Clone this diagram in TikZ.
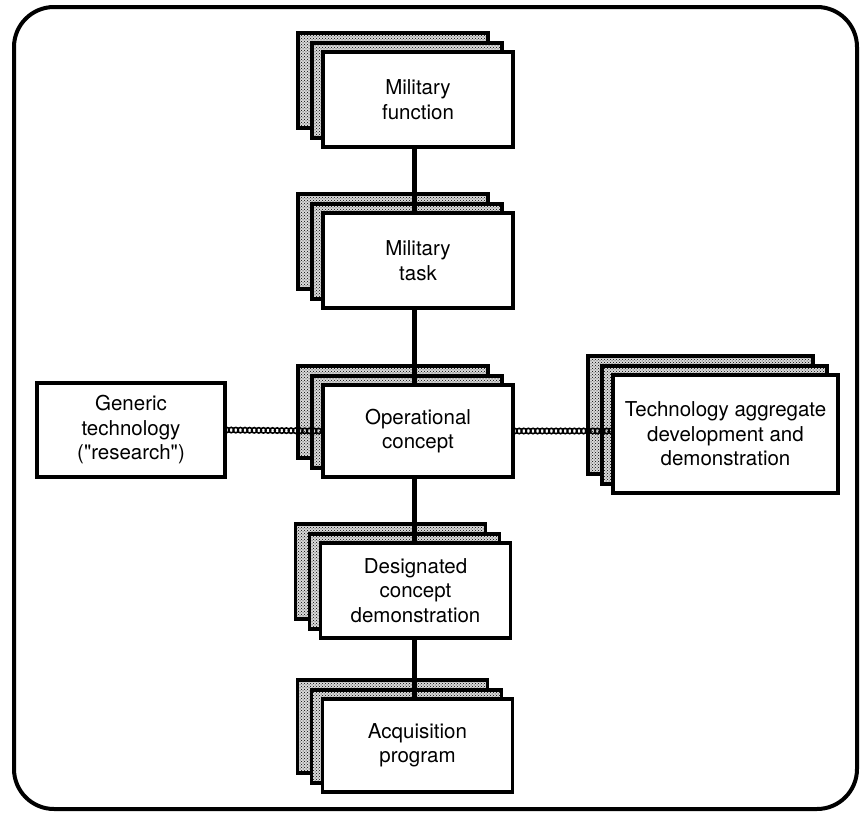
\documentclass[tikz,border=0pt]{standalone}
\usepackage{fontspec}
\setmainfont{TeX Gyre Heros}
\usetikzlibrary{patterns,decorations.markings}

% two stippled sheets stacked behind a box: centre x, centre y, width, height
\newcommand\backsheets[4]{%
  \draw[sheet] ({#1-#3/2-25},{#2-#4/2-19}) rectangle ++(#3,#4);
  \draw[sheet] ({#1-#3/2-11},{#2-#4/2-9}) rectangle ++(#3,#4);
}

\begin{document}
\begin{tikzpicture}[x=1pt,y=-1pt,
  box/.style={draw, line width=3.2pt, fill=white, align=center, inner sep=0pt,
    minimum width=190pt, minimum height=95pt,
    font=\fontsize{20.5}{24.5}\selectfont},
  sheet/.style={draw, line width=3.2pt, preaction={fill=black!15},
    pattern=crosshatch dots, pattern color=black},
  link/.style={line width=5pt},
  chain/.style={postaction={decorate}, decoration={markings,
    mark=between positions 0 and 1 step 4.6pt with
      {\draw[line width=1.6pt] (0,0) circle (2.7pt);}}}
]
\useasboundingbox (0,0) rectangle (860,814);

% frame
\draw[line width=4pt, rounded corners=40pt] (14,7) rectangle (857,809);

% stacked boxes
\backsheets{418}{99.5}{190}{95}
\node[box] (mf) at (418,99.5) {Military\\function};

\backsheets{418}{260.5}{190}{95}
\node[box] (mt) at (418,260.5) {Military\\task};

\backsheets{418}{431}{190}{92}
\node[box, minimum height=92pt] (oc) at (418,431) {Operational\\concept};

\backsheets{415.5}{590.5}{190}{95}
\node[box] (dc) at (415.5,590.5) {Designated\\concept\\demonstration};

\backsheets{417.5}{745.5}{190}{93}
\node[box, minimum height=93pt] (ap) at (417.5,745.5) {Acquisition\\program};

\backsheets{725.5}{434}{225}{118}
\node[box, minimum width=225pt, minimum height=118pt] (ta) at (725.5,434)
  {Technology aggregate\\development and\\demonstration};

% single box
\node[box, minimum width=188pt, minimum height=94pt] (gt) at (131,430)
  {Generic\\technology\\(\textquotedbl research\textquotedbl)};

% vertical spine
\coordinate (spine) at (414,0);
\draw[link] (mf.south -| spine) -- (mt.north -| spine);
\draw[link] (mt.south -| spine) -- (oc.north -| spine);
\draw[link] (oc.south -| spine) -- (dc.north -| spine);
\draw[link] (dc.south -| spine) -- (ap.north -| spine);

% chain links to the side boxes
\path[chain] (gt.east) -- (oc.west);
\path[chain] (oc.east) -- (ta.west |- oc.east);
\end{tikzpicture}
\end{document}
